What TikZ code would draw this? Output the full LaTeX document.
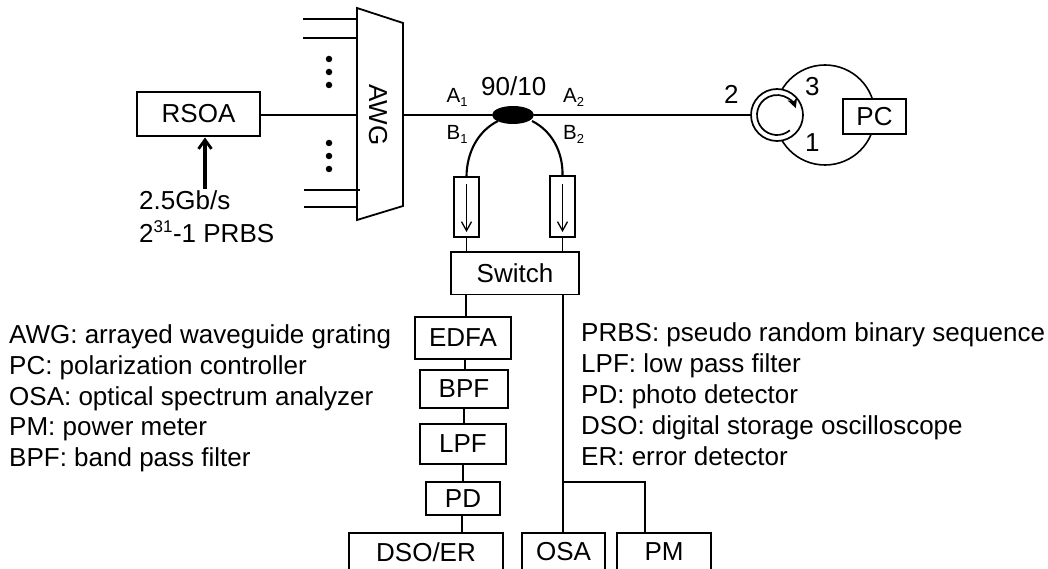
\documentclass[tikz,border=0pt]{standalone}
\usepackage{fontspec}
\setmainfont{Liberation Sans}
\usetikzlibrary{arrows.meta,shapes.geometric}
\newcommand{\fs}{\fontsize{26}{30}\selectfont}
\newcommand{\fsm}{\fontsize{20.5}{24}\selectfont}
\tikzset{
  x=1pt,y=-1pt,
  line/.style={draw=black,line width=1.8pt},
  fibre/.style={draw=black,line width=2.6pt},
  box/.style={draw=black,line width=1.8pt,fill=white,inner sep=0pt,font=\fs},
  lab/.style={inner sep=0pt,anchor=base west,font=\fs},
  slab/.style={inner sep=0pt,anchor=base west,font=\fsm},
  dotm/.style={circle,fill=black,inner sep=0pt,minimum size=6.5pt},
  iso/.style={draw=black,line width=1.8pt,fill=white,inner sep=0pt,minimum width=25pt,minimum height=60.5pt},
}
\newcommand{\bx}[6]{\node[box,minimum width=#3pt-#2pt,minimum height=#5pt-#4pt] (#1) at ({(#2+#3)/2},{(#4+#5)/2}) {#6};}
\begin{document}
\begin{tikzpicture}
\useasboundingbox (0,0) rectangle (1048,569);
% ring
\node[circle,draw=black,line width=1.6pt,minimum size=100pt,inner sep=0pt] (ring) at (825,115) {};
% boxes
\bx{rsoa}{137}{260}{92}{136}{RSOA}
\bx{pc}{843}{906}{99}{134}{PC}
\bx{switch}{451}{579}{252}{294.5}{Switch}
\bx{edfa}{415}{511}{317}{359}{EDFA}
\bx{bpf}{420}{508}{370}{408}{BPF}
\bx{lpf}{420}{506}{424}{464}{LPF}
\bx{pd}{426}{500}{482}{515}{PD}
\bx{dso}{349}{503}{533}{571}{DSO/ER}
\bx{osa}{522}{605}{533}{571}{OSA}
\bx{pm}{617}{711}{533}{571}{PM}
% AWG
\coordinate (awgA) at (357,8);
\coordinate (awgB) at (403,23);
\coordinate (awgC) at (403,206);
\coordinate (awgD) at (357,220);
\draw[line,fill=white] (awgA) -- (awgB) -- (awgC) -- (awgD) -- cycle;
\node[inner sep=0pt,rotate=-90,font=\fs] (awg) at (378,115) {AWG};
\coordinate (awgL) at (357,115);
\coordinate (awgR) at (403,115);
% AWG left ports
\coordinate (p1a) at (303,19); \coordinate (p1b) at (357,19);
\coordinate (p2a) at (303,38); \coordinate (p2b) at (357,38);
\coordinate (p3a) at (304,190); \coordinate (p3b) at (360,190);
\coordinate (p4a) at (304,207); \coordinate (p4b) at (358,207);
\draw[fibre] (p1a) -- (p1b);
\draw[fibre] (p2a) -- (p2b);
\draw[fibre] (p3a) -- (p3b);
\draw[fibre] (p4a) -- (p4b);
\node[dotm] (d1) at (329,59) {};
\node[dotm] (d2) at (329,72) {};
\node[dotm] (d3) at (329,85) {};
\node[dotm] (d4) at (329,143) {};
\node[dotm] (d5) at (329,156) {};
\node[dotm] (d6) at (329,169) {};
% coupler
\node[ellipse,fill=black,minimum width=42pt,minimum height=18pt,inner sep=0pt] (cpl) at (513,115) {};
% circulator
\node[circle,draw=black,line width=1.7pt,fill=white,minimum size=52pt,inner sep=0pt] (circ) at (777,115) {};
\draw[line width=1.7pt,-{Stealth[length=10pt,width=10pt]}] ([shift={(50:20)}]circ.center) arc[start angle=-50,end angle=-340,radius=20pt];
% main fibres
\draw[fibre] (rsoa.east |- awgL) -- (awgL);
\draw[fibre] (awgR) -- (cpl);
\draw[fibre] (cpl) -- (circ.west);
% isolators
\node[iso] (isoL) at (466.5,207) {};
\node[iso] (isoR) at (562.5,206.5) {};
\coordinate (isoLa) at (466.5,184); \coordinate (isoLb) at (466.5,232);
\coordinate (isoRa) at (562.5,184); \coordinate (isoRb) at (562.5,232);
\draw[line width=1.3pt,-{Straight Barb[length=9pt,width=10pt]}] (isoLa) -- (isoLb);
\draw[line width=1.3pt,-{Straight Barb[length=9pt,width=10pt]}] (isoRa) -- (isoRb);
\coordinate (cplL) at (498,121);
\coordinate (cplR) at (532,121);
\draw[line width=2.1pt] (cplL) .. controls (478,131) and (467,152) .. (isoL.north);
\draw[line width=2.1pt] (cplR) .. controls (552,131) and (563,152) .. (isoR.north);
\draw[line] (isoL.south) -- (isoL.south |- switch.north);
\draw[line] (isoR.south) -- (isoR.south |- switch.north);
% chain
\draw[line] (466,294.5) -- (466,317);
\draw[line] (465,359) -- (465,370);
\draw[line] (464,408) -- (464,424);
\draw[line] (463,464) -- (463,482);
\draw[line] (462,515) -- (462,533);
\coordinate (br) at (563,482);
\coordinate (brR) at (645,482);
\draw[line] (563,294.5) -- (br) -- (563,533);
\draw[line] (br) -- (brR) -- (645,533);
% modulation arrow
\node[lab] (rate) at (139,210) {2.5Gb/s};
\node[lab] (prbs) at (139,242) {2\textsuperscript{\fontsize{17}{17}\selectfont 31}-1 PRBS};
\coordinate (mod) at (205,189);
\draw[line width=3.2pt,-{Straight Barb[length=9pt,width=13pt,line width=2.8pt]}] (mod) -- (205,137.5);
% labels
\node[lab] (ratio) at (481,96) {90/10};
\node[slab] (a1) at (446.5,103) {A\textsubscript{\fontsize{13}{13}\selectfont 1}};
\node[slab] (b1) at (446.5,140) {B\textsubscript{\fontsize{13}{13}\selectfont 1}};
\node[slab] (a2) at (563,103) {A\textsubscript{\fontsize{13}{13}\selectfont 2}};
\node[slab] (b2) at (563,140) {B\textsubscript{\fontsize{13}{13}\selectfont 2}};
\node[lab] (n2) at (724,104) {2};
\node[lab] (n3) at (805,96) {3};
\node[lab] (n1) at (805,152) {1};
% legends
\node[lab] (l1) at (9,343) {AWG: arrayed waveguide grating};
\node[lab] (l2) at (9,374) {PC: polarization controller};
\node[lab] (l3) at (9,405) {OSA: optical spectrum analyzer};
\node[lab] (l4) at (9,435.5) {PM: power meter};
\node[lab] (l5) at (9,466) {BPF: band pass filter};
\node[lab] (r1) at (581,341) {PRBS: pseudo random binary sequence};
\node[lab] (r2) at (581,372) {LPF: low pass filter};
\node[lab] (r3) at (581,403) {PD: photo detector};
\node[lab] (r4) at (581,434) {DSO: digital storage oscilloscope};
\node[lab] (r5) at (581,465) {ER: error detector};
\end{tikzpicture}
\end{document}
